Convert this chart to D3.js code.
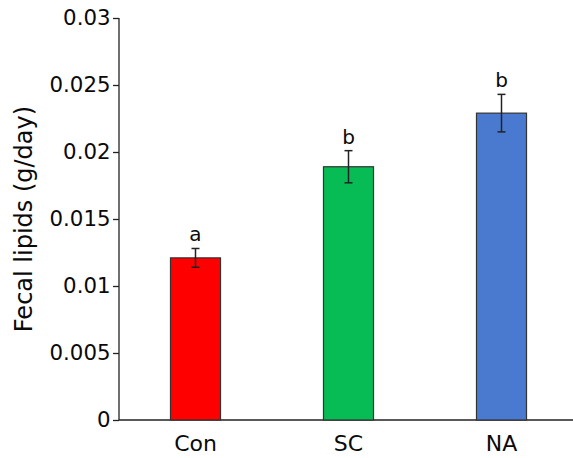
<!DOCTYPE html>
<html>
<head>
<meta charset="utf-8">
<script src="https://cdn.jsdelivr.net/npm/d3@7"></script>
<style>
  html, body { margin: 0; padding: 0; background: #fff; }
  svg { display: block; font-family: "DejaVu Sans", Verdana, sans-serif; }
</style>
</head>
<body>
<svg id="chart" width="573" height="458"></svg>
<script>
// Fecal lipid excretion by diet group (mean ± SE)
const groups = ["Con", "SC", "NA"];
const means = [0.0121, 0.0189, 0.0229];
const errors = [0.0007, 0.0012, 0.0014];
const letters = ["a", "b", "b"];
const colors = ["#ff0000", "#07bb55", "#4a7ad0"];
const yTicks = [0, 0.005, 0.01, 0.015, 0.02, 0.025, 0.03];

const svg = d3.select("#chart");
const x0 = 119, x1 = 578, yBase = 420, yTop = 18;

const x = d3.scaleBand().domain(groups).range([x0, x1]).paddingInner(0.673).paddingOuter(0.3365);
const y = d3.scaleLinear().domain([0, 0.03]).range([yBase, yTop]);

// y axis
const yAxis = svg.append("g")
  .attr("transform", `translate(${x0},0)`)
  .call(d3.axisLeft(y).tickValues(yTicks).tickSize(6).tickPadding(2.5)
    .tickFormat(d => d === 0 ? "0" : String(+d.toFixed(3))));
yAxis.select(".domain").attr("d", `M0,${yTop}V${yBase}`).attr("stroke", "#222").attr("stroke-width", 1.3);
yAxis.selectAll(".tick line").attr("stroke", "#222").attr("stroke-width", 1.3);
yAxis.selectAll(".tick text").attr("font-size", 21.3).attr("fill", "#0a0a0a")
  .attr("font-family", "DejaVu Sans, sans-serif");

// x axis
const xAxis = svg.append("g")
  .attr("transform", `translate(0,${yBase})`)
  .call(d3.axisBottom(x).tickSize(0).tickPadding(15));
xAxis.select(".domain").attr("d", `M${x0},0H${x1}`).attr("stroke", "#222").attr("stroke-width", 1.3);
xAxis.selectAll(".tick text").attr("font-size", 22).attr("fill", "#0a0a0a")
  .attr("font-family", "DejaVu Sans, sans-serif");

// y axis title
svg.append("text")
  .attr("transform", `translate(32,${(105 + 333) / 2}) rotate(-90)`)
  .attr("text-anchor", "middle")
  .attr("font-size", 24)
  .attr("fill", "#0a0a0a")
  .text("Fecal lipids (g/day)");

const data = groups.map((g, i) => ({ g, m: means[i], e: errors[i], l: letters[i], c: colors[i] }));

// bars
svg.append("g").selectAll("rect").data(data).join("rect")
  .attr("x", d => x(d.g))
  .attr("y", d => y(d.m))
  .attr("width", x.bandwidth())
  .attr("height", d => y(0) - y(d.m))
  .attr("fill", d => d.c)
  .attr("stroke", "#333")
  .attr("stroke-width", 1.2);

// error bars
const eb = svg.append("g").attr("stroke", "#222").attr("stroke-width", 1.5);
data.forEach(d => {
  const cx = x(d.g) + x.bandwidth() / 2;
  eb.append("line").attr("x1", cx).attr("x2", cx).attr("y1", y(d.m + d.e)).attr("y2", y(d.m - d.e));
  eb.append("line").attr("x1", cx - 4).attr("x2", cx + 4).attr("y1", y(d.m + d.e)).attr("y2", y(d.m + d.e));
  eb.append("line").attr("x1", cx - 4).attr("x2", cx + 4).attr("y1", y(d.m - d.e)).attr("y2", y(d.m - d.e));
});

// significance letters
svg.append("g").selectAll("text").data(data).join("text")
  .attr("x", d => x(d.g) + x.bandwidth() / 2)
  .attr("y", d => y(d.m + d.e) - 7)
  .attr("text-anchor", "middle")
  .attr("font-size", 20)
  .attr("fill", "#0a0a0a")
  .text(d => d.l);
</script>
</body>
</html>
